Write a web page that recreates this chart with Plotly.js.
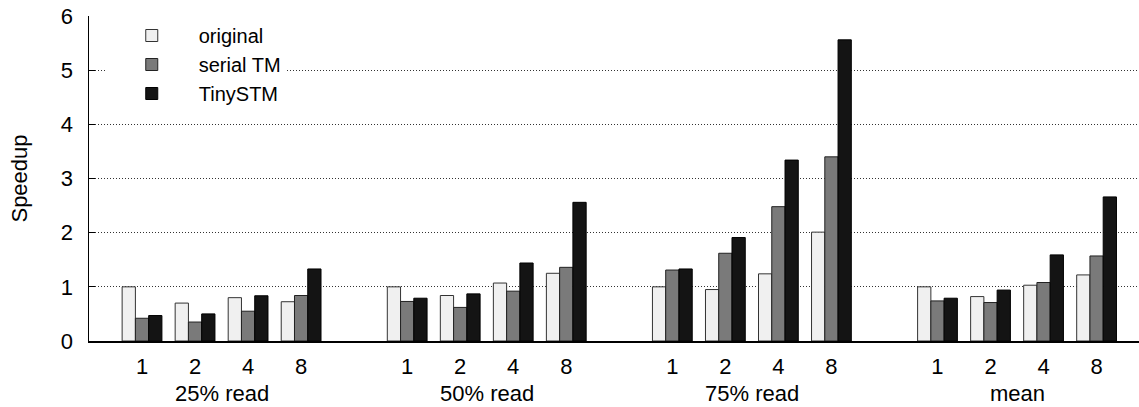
<!DOCTYPE html>
<html>
<head>
<meta charset="utf-8">
<script src="https://cdn.plot.ly/plotly-3.0.1.min.js"></script>
<style>html,body{margin:0;padding:0;background:#fff;}#chart{width:1139px;height:407px;}</style>
</head>
<body>
<div id="chart"></div>
<script>
const groups = ['25% read', '50% read', '75% read', 'mean'];
const threads = ['1', '2', '4', '8'];
const seriesNames = ['original', 'serial TM', 'TinySTM'];
const original = [1.00, 0.70, 0.80, 0.725,  1.00, 0.84, 1.07, 1.25,  1.00, 0.95, 1.24, 2.01,  1.00, 0.82, 1.03, 1.22];
const serialTM = [0.42, 0.35, 0.55, 0.84,   0.73, 0.62, 0.92, 1.36,  1.31, 1.62, 2.48, 3.40,  0.74, 0.71, 1.08, 1.57];
const tinySTM  = [0.47, 0.50, 0.835, 1.33,  0.79, 0.87, 1.44, 2.56,  1.33, 1.91, 3.34, 5.56,  0.79, 0.94, 1.59, 2.66];
const colors = ['#f0f0f0', '#7a7a7a', '#141414'];
const lineColors = ['#333', '#222', '#000'];

const GROUP_STRIDE = 5;
const xs = [], tickText = [];
groups.forEach((g, gi) => threads.forEach((t, ti) => { xs.push(gi * GROUP_STRIDE + ti); tickText.push(t); }));

const FONT = 'Liberation Sans, Arial, Helvetica, sans-serif';
const values = [original, serialTM, tinySTM];
const traces = values.map((v, i) => ({
  type: 'bar', x: xs, y: v, name: seriesNames[i],
  marker: {color: colors[i], line: {color: lineColors[i], width: 1}},
  hoverinfo: 'skip'
}));

const annotations = groups.map((g, gi) => ({
  text: g, xref: 'x', yref: 'paper', x: gi * GROUP_STRIDE + (threads.length - 1) / 2, y: -0.16,
  xanchor: 'center', yanchor: 'middle', showarrow: false, font: {family: FONT, size: 22, color: '#000'}
}));

const layout = {
  width: 1139, height: 407,
  margin: {l: 89, r: 0, t: 16, b: 66},
  paper_bgcolor: '#fff', plot_bgcolor: '#fff',
  barmode: 'group', bargap: 0.25, bargroupgap: 0,
  font: {family: FONT, size: 22, color: '#000'},
  showlegend: true,
  legend: {x: 0.015, y: 1, xanchor: 'left', yanchor: 'top', bgcolor: '#fff',
           font: {family: FONT, size: 20}, itemwidth: 84, tracegroupgap: 0, entrywidth: 240},
  xaxis: {range: [-1, 18.8], tickvals: xs, ticktext: tickText, ticks: '', showline: true,
          linecolor: '#000', linewidth: 1.5, showgrid: false, zeroline: false, ticklabelstandoff: 5,
          tickfont: {family: FONT, size: 22}},
  xaxis2: {overlaying: 'x', side: 'top', range: [-1, 18.8], tickvals: xs, ticks: 'inside', ticklen: 6,
           tickcolor: '#000', showticklabels: false, showline: true, linecolor: '#000', linewidth: 1.5,
           showgrid: false, zeroline: false},
  yaxis: {range: [0, 6], tickvals: [0, 1, 2, 3, 4, 5, 6], ticks: 'inside', ticklen: 6, tickcolor: '#000',
          showline: true, linecolor: '#000', linewidth: 1.5, showgrid: true, gridcolor: '#333',
          griddash: '1px,2px', gridwidth: 1, zeroline: false, ticklabelstandoff: 10,
          title: {text: 'Speedup', standoff: 27, font: {family: FONT, size: 22}},
          tickfont: {family: FONT, size: 22}},
  annotations: annotations
};

Plotly.newPlot('chart', traces, layout, {staticPlot: true, displayModeBar: false});
</script>
</body>
</html>
